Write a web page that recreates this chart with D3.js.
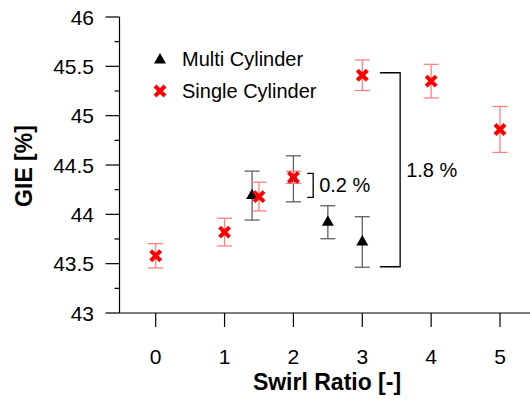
<html lang="en">
<head>
  <title>GIE vs Swirl Ratio</title>
  <meta charset="utf-8">
  <script src="https://d3js.org/d3.v7.min.js"></script>
  <style>
    body { margin: 0; background: #fff; }
    text { font-family: "Liberation Sans", Arial, sans-serif; }
  </style>
</head>
<body>
  <svg id="canvas"></svg>
</body>
<script>

// ************************************************************************************** //
// Data

var single_x   = [0, 1, 1.5, 2, 3, 4, 5];
var single_gie = [43.58, 43.82, 44.18, 44.375, 45.41, 45.35, 44.86];
var single_err = [0.123, 0.14, 0.145, 0.062, 0.155, 0.17, 0.233];

var multi_x   = [1.4, 2, 2.5, 3];
var multi_gie = [44.19, 44.36, 43.92, 43.72];
var multi_err = [0.248, 0.233, 0.167, 0.256];

var x_ticks = [0, 1, 2, 3, 4, 5];
var y_ticks = [43, 43.5, 44, 44.5, 45, 45.5, 46];
var y_minor = [43.25, 43.75, 44.25, 44.75, 45.25, 45.75];

var legend_labels = ['Multi Cylinder', 'Single Cylinder'];

// brackets in data units: x0 = arm end, x1 = spine
var brackets = [
  { x0: 2.20, x1: 2.287, top: 44.415, bot: 44.172, label: '0.2 %' },
  { x0: 3.255, x1: 3.55, top: 45.435, bot: 43.469, label: '1.8 %' }
];

// ************************************************************************************** //
// Setup

var width = 530, height = 400;
var svg = d3.select('#canvas').attr('width', width).attr('height', height);

var x = d3.scaleLinear().domain([0, 5]).range([155.7, 500]);
var y = d3.scaleLinear().domain([43, 46]).range([313, 17]);
var axis_x = 119.5;

var red = '#ff0000', red_bar = '#ff8080', black_bar = '#606060';

// ************************************************************************************** //
// Axes

var g_axes = svg.append('g').attr('stroke', '#000').attr('stroke-width', 1.2);

// y axis line + ticks
g_axes.append('line').attr('x1', axis_x).attr('x2', axis_x).attr('y1', y(46)).attr('y2', y(43));
g_axes.selectAll('.ymaj').data(y_ticks).enter().append('line')
  .attr('x1', axis_x - 14).attr('x2', axis_x).attr('y1', d => y(d)).attr('y2', d => y(d));
g_axes.selectAll('.ymin').data(y_minor).enter().append('line')
  .attr('x1', axis_x - 5).attr('x2', axis_x).attr('y1', d => y(d)).attr('y2', d => y(d));

// x axis line + ticks
g_axes.append('line').attr('x1', axis_x).attr('x2', width).attr('y1', y(43)).attr('y2', y(43));
g_axes.selectAll('.xt').data(x_ticks).enter().append('line')
  .attr('x1', d => x(d)).attr('x2', d => x(d)).attr('y1', y(43)).attr('y2', y(43) + 14);

svg.selectAll('.ylab').data(y_ticks).enter().append('text')
  .attr('x', 94).attr('y', d => y(d) + 7.5)
  .attr('text-anchor', 'end').attr('font-size', 21)
  .text(d => d);

svg.selectAll('.xlab').data(x_ticks).enter().append('text')
  .attr('x', d => x(d)).attr('y', 363.5)
  .attr('text-anchor', 'middle').attr('font-size', 21)
  .text(d => d);

svg.append('text')
  .attr('transform', 'translate(32,166) rotate(-90)')
  .attr('text-anchor', 'middle').attr('font-size', 23).attr('font-weight', 'bold')
  .text('GIE [%]');

svg.append('text')
  .attr('x', 327).attr('y', 390)
  .attr('text-anchor', 'middle').attr('font-size', 23).attr('font-weight', 'bold')
  .text('Swirl Ratio [-]');

// ************************************************************************************** //
// Error bars and markers

function errorBars(xs, ys, es, color){
  var g = svg.append('g').attr('stroke', color).attr('stroke-width', 1.3).attr('fill', 'none');
  xs.forEach((d, i) => {
    var px = x(d), t = y(ys[i] + es[i]), b = y(ys[i] - es[i]);
    g.append('line').attr('x1', px).attr('x2', px).attr('y1', t).attr('y2', b);
    g.append('line').attr('x1', px - 7.5).attr('x2', px + 7.5).attr('y1', t).attr('y2', t);
    g.append('line').attr('x1', px - 7.5).attr('x2', px + 7.5).attr('y1', b).attr('y2', b);
  });
}

var tri = d3.symbol().type(d3.symbolTriangle).size(62);

function drawCross(g, px, py){
  g.append('path')
    .attr('d', 'M' + (px - 5) + ',' + (py - 5) + 'L' + (px + 5) + ',' + (py + 5) +
               'M' + (px - 5) + ',' + (py + 5) + 'L' + (px + 5) + ',' + (py - 5))
    .attr('stroke', red).attr('stroke-width', 4).attr('fill', 'none');
}

errorBars(multi_x, multi_gie, multi_err, black_bar);
svg.append('g').selectAll('path').data(multi_x).enter().append('path')
  .attr('d', tri).attr('fill', '#000')
  .attr('transform', (d, i) => 'translate(' + x(d) + ',' + y(multi_gie[i]) + ')');

errorBars(single_x, single_gie, single_err, red_bar);
var g_cross = svg.append('g');
single_x.forEach((d, i) => drawCross(g_cross, x(d), y(single_gie[i])));

// ************************************************************************************** //
// Brackets

brackets.forEach(b => {
  svg.append('path')
    .attr('d', 'M' + x(b.x0) + ',' + y(b.top) + 'H' + x(b.x1) + 'V' + y(b.bot) + 'H' + x(b.x0))
    .attr('stroke', '#000').attr('stroke-width', 1.3).attr('fill', 'none');
  svg.append('text')
    .attr('x', x(b.x1) + 6).attr('y', (y(b.top) + y(b.bot)) / 2 + 7)
    .attr('font-size', 20)
    .text(b.label);
});

// ************************************************************************************** //
// Legend

svg.append('path').attr('d', tri).attr('fill', '#000').attr('transform', 'translate(160,60)');
drawCross(svg, 160, 91);
legend_labels.forEach((d, i) => {
  svg.append('text').attr('x', 182).attr('y', 66 + i * 32).attr('font-size', 20).text(d);
});

</script>
</html>
